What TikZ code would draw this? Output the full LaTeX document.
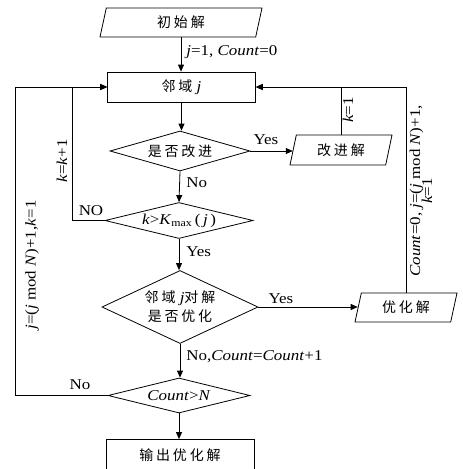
\documentclass[tikz,border=0pt]{standalone}
\usepackage{fontspec}
\setmainfont[FakeStretch=1.13]{Liberation Serif}
\newfontfamily\cjk[LetterSpace=20]{Noto Sans CJK SC}
\usetikzlibrary{shapes.geometric,arrows.meta}
\begin{document}
\begin{tikzpicture}[x=1pt,y=-1pt,
  line width=0.8pt,
  font=\fontsize{15}{17}\selectfont,
  arr/.style={-{Triangle[length=7pt,width=6pt]}},
  box/.style={draw, rectangle, minimum width=148pt, minimum height=30pt, inner sep=0pt},
  dec/.style={draw, diamond, inner sep=0pt},
  para/.style={draw, trapezium, trapezium left angle=64, trapezium right angle=116,
    trapezium stretches body, inner sep=0pt, minimum height=29pt},
  lab/.style={inner sep=1pt},
  cn/.style={font=\fontsize{14}{16}\selectfont\cjk}]
\useasboundingbox (0,0) rectangle (463,469);
% nodes
\node[para, cn, minimum width=162pt] (init) at (181,22.5) {初始解};
\node[box] (nb) at (181.5,87) {{\cjk\fontsize{14}{16}\selectfont 邻域} \textit{j}};
\node[dec, cn, aspect=3.5, minimum width=140pt, minimum height=40pt] (d1) at (180,151) {是否改进};
\node[para, cn, minimum width=102pt, minimum height=30pt] (imp) at (341,150) {改进解};
\node[dec, aspect=4.1, minimum width=148pt, minimum height=36pt] (d2) at (179,220.5)
  {\textit{k}>\textit{K}\textsubscript{max}\,(\,\textit{j}\,)};
\node[dec, aspect=2.14, minimum width=156pt, minimum height=73pt, align=center] (d3) at (180,307)
  {{\cjk\fontsize{14}{16}\selectfont 邻域} \textit{j}{\cjk\fontsize{14}{16}\selectfont 对解}\\[2pt]{\cjk\fontsize{14}{16}\selectfont 是否优化}};
\node[para, cn, minimum width=102pt] (opt) at (406,307.5) {优化解};
\node[dec, aspect=4.06, minimum width=142pt, minimum height=35pt] (d4) at (179,395.5) {\textit{Count}>\textit{N}};
\node[box, cn, minimum height=31pt] (out) at (180,455) {输出优化解};
\coordinate (L1) at (72,0);
\coordinate (L2) at (15,0);
% connectors
\draw[arr] (init.south) -- (init.south |- nb.north);
\draw[arr] (nb.south) -- (nb.south |- d1.north);
\draw[arr] (d1.east) -- (imp.west |- d1.east);
\draw[arr] (imp.north) |- (nb.east);
\draw[arr] (opt.north) |- (nb.east);
\draw[arr] (d1.south) -- (d2.north);
\draw[arr] (d2.west) -- (d2.west -| L1) -- (L1 |- nb.west) -- (nb.west);
\draw[arr] (d2.south) -- (d2.south |- d3.north);
\draw[arr] (d3.east) -- (opt.west |- d3.east);
\draw[arr] (d3.south) -- (d3.south |- d4.north);
\draw[arr] (d4.west) -- (d4.west -| L2) -- (L2 |- nb.west) -- (nb.west);
\draw[arr] (d4.south) -- (d4.south |- out.north);
% labels
\node[lab, anchor=west] (t1) at (185,52) {\textit{j}=1, \textit{Count}=0};
\node[lab] (t2) at (266,140) {Yes};
\node[lab, rotate=90] (t3) at (348,110) {\textit{k}=1};
\node[lab, anchor=west] (t4) at (185,183) {No};
\node[lab] (t5) at (91,211) {NO};
\node[lab, rotate=90] (t6) at (62,161) {\textit{k}=\textit{k}+1};
\node[lab, anchor=west] (t7) at (185,252) {Yes};
\node[lab] (t8) at (281,299) {Yes};
\node[lab, rotate=90, align=center] (t9) at (421,191)
  {\textit{Count}=0, \textit{j}=(\textit{j} mod \textit{N})+1,\\[-5pt]\textit{k}=1};
\node[lab, anchor=west] (t10) at (185,357) {No,\textit{Count}=\textit{Count}+1};
\node[lab] (t11) at (80,385) {No};
\node[lab, rotate=90] (t12) at (32,265) {\textit{j}=(\textit{j} mod \textit{N})+1,\textit{k}=1};
\end{tikzpicture}
\end{document}
